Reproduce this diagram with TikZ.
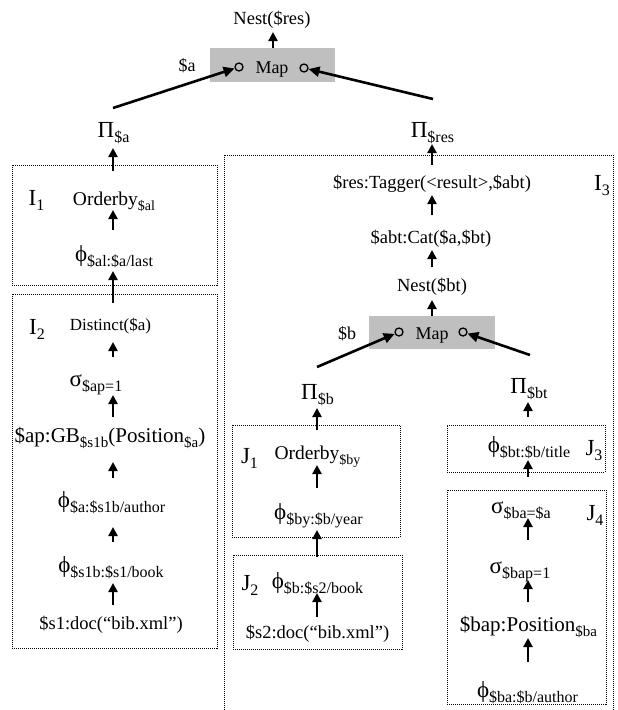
\documentclass[tikz,border=0pt]{standalone}
\usepackage{fontspec}
\setmainfont{Liberation Serif}
\usetikzlibrary{arrows.meta}
\newcommand\fsz[1]{\fontsize{#1}{#1}\selectfont}
\newcommand\low[2][16]{\raisebox{-5pt}{\fsz{#1}#2}}
\newcommand\gk[2][23]{{\fsz{#1}#2}}
\begin{document}
\begin{tikzpicture}[x=1pt,y=-1pt,
  txt/.style={inner sep=0pt, text height=0pt, text depth=0pt, font=\fsz{18.5}},
  arr/.style={line width=2.5pt, -{Triangle[width=9pt,length=9pt]}},
  link/.style={line width=2.6pt, -{Triangle[width=10pt,length=11pt]}},
  dbox/.style={draw, line width=0.9pt, dash pattern=on 1pt off 1pt, inner sep=0pt},
  mapbox/.style={fill=black!25, inner sep=0pt},
  port/.style={circle, draw, line width=1.3pt, fill=black!25, minimum size=8pt, inner sep=0pt},
  lbl/.style={inner sep=0pt, text height=0pt, text depth=0pt, font=\fsz{23}},
]
\useasboundingbox (0,0) rectangle (618,710);

% ---------- top ----------
\coordinate (col0) at (273,0);
\node[txt] (nestres) at (272,24) {Nest(\$res)};
\node[mapbox, minimum width=125pt, minimum height=34pt] (map1) at (272.5,65) {};
\node[txt, font=\fsz{18}] (map1t) at (272,73) {Map};
\node[port] (cL1) at (239,67) {};
\node[port] (cR1) at (304,68) {};
\node[txt, font=\fsz{18}] (va) at (187,71) {\$a};
\draw[arr, shorten >=8pt] (col0 |- map1.north) -- (col0 |- nestres);

% ---------- left branch ----------
\coordinate (col1) at (113,0);
\node[txt] (pa) at (113.5,137) {\gk{Π}\low{\$a}};
\coordinate (paTop) at (113,108);
\draw[link] (paTop) -- (cL1);

\node[dbox, minimum width=205pt, minimum height=120pt] (I1) at (114.5,225) {};
\node[lbl] (I1l) at (36.5,205) {I\low{1}};
\node[txt, font=\fsz{19.5}] (ob1) at (114,205) {Orderby\low[14]{\$al}};
\node[txt] (phi1) at (114,261) {\gk{ϕ}\low{\$al:\$a/last}};

\node[dbox, minimum width=205pt, minimum height=354pt] (I2) at (114.5,471) {};
\node[lbl] (I2l) at (37,334) {I\low{2}};
\node[txt, font=\fsz{17}] (dist) at (110.5,330) {Distinct(\$a)};
\node[txt] (sig1) at (96,386) {\gk{σ}\low{\$ap=1}};
\node[txt, font=\fsz{21}] (gb) at (110,442) {\$ap:GB\low[15]{\$s1b}(Position\low[15]{\$a})};
\node[txt] (phi2) at (111.5,507) {\gk{ϕ}\low{\$a:\$s1b/author}};
\node[txt] (phi3) at (111,572) {\gk{ϕ}\low{\$s1b:\$s1/book}};
\node[txt] (doc1) at (111,629) {\$s1:doc(“bib.xml”)};

\draw[arr, shorten <=-6pt, shorten >=11pt] (col1 |- I1.north) -- (col1 |- pa);
\draw[arr, shorten <=31pt, shorten >=5pt] (col1 |- phi1) -- (col1 |- ob1);
\draw[arr, shorten <=-9pt, shorten >=10pt] (col1 |- I2.north) -- (col1 |- phi1);
\draw[arr, shorten <=29pt, shorten >=12pt] (col1 |- sig1) -- (col1 |- dist);
\draw[arr, shorten <=25pt, shorten >=9pt] (col1 |- gb) -- (col1 |- sig1);
\draw[arr, shorten <=29pt, shorten >=20pt] (col1 |- phi2) -- (col1 |- gb);
\draw[arr, shorten <=30pt, shorten >=20pt] (col1 |- phi3) -- (col1 |- phi2);
\draw[arr, shorten <=24pt, shorten >=11pt] (col1 |- doc1) -- (col1 |- phi3);

% ---------- right branch ----------
\coordinate (col2) at (432,0);
\node[txt] (pres) at (432.5,137) {\gk{Π}\low{\$res}};
\coordinate (presTop) at (433,99);
\draw[link] (presTop) -- (cR1);

\node[dbox, minimum width=389pt, minimum height=570pt] (I3) at (418.5,440) {};
\node[lbl] (I3l) at (602,190) {I\low{3}};
\node[txt] (tag) at (432,188) {\$res:Tagger(<result>,\$abt)};
\node[txt] (cat) at (431,243) {\$abt:Cat(\$a,\$bt)};
\node[txt] (nestbt) at (432,291) {Nest(\$bt)};
\node[mapbox, minimum width=126pt, minimum height=33pt] (map2) at (432,332.5) {};
\node[txt, font=\fsz{18}] (map2t) at (432,339) {Map};
\node[port] (cL2) at (399,332) {};
\node[port] (cR2) at (463,332) {};
\node[txt, font=\fsz{18}] (vb) at (347,339) {\$b};

\draw[arr, shorten <=-10pt, shorten >=7pt] (col2 |- I3.north) -- (col2 |- pres);
\draw[arr, shorten <=28pt, shorten >=7pt] (col2 |- cat) -- (col2 |- tag);
\draw[arr, shorten <=24pt, shorten >=7pt] (col2 |- nestbt) -- (col2 |- cat);
\draw[arr, shorten >=9pt] (col2 |- map2.north) -- (col2 |- nestbt);

% J1 / J2
\coordinate (col3) at (317,0);
\node[txt] (pb) at (317.5,399) {\gk{Π}\low{\$b}};
\coordinate (pbTop) at (317,367);
\draw[link] (pbTop) -- (cL2);

\node[dbox, minimum width=168pt, minimum height=112pt] (J1) at (316,481) {};
\node[lbl] (J1l) at (249.5,463) {J\low{1}};
\node[txt, font=\fsz{19.5}] (ob2) at (317.5,459) {Orderby\low[14]{\$by}};
\node[txt] (phi4) at (318.5,519) {\gk{ϕ}\low{\$by:\$b/year}};

\node[dbox, minimum width=169pt, minimum height=94pt] (J2) at (317.5,602) {};
\node[lbl] (J2l) at (250,590) {J\low{2}};
\node[txt] (phi5) at (317.5,588) {\gk{ϕ}\low{\$b:\$s2/book}};
\node[txt] (doc2) at (317.5,638) {\$s2:doc(“bib.xml”)};

\draw[arr, shorten <=-5pt, shorten >=9pt] (col3 |- J1.north) -- (col3 |- pb);
\draw[arr, shorten <=31pt, shorten >=6pt] (col3 |- phi4) -- (col3 |- ob2);
\draw[arr, shorten <=-2pt, shorten >=11pt] (col3 |- J2.north) -- (col3 |- phi4);
\draw[arr, shorten <=21pt, shorten >=5pt] (col3 |- doc2) -- (col3 |- phi5);

% J3 / J4
\coordinate (col4) at (528,0);
\node[txt] (pbt) at (529,393) {\gk{Π}\low{\$bt}};
\coordinate (pbtTop) at (530,355);
\draw[link] (pbtTop) -- (cR2);

\node[dbox, minimum width=158pt, minimum height=47pt] (J3) at (526,448.5) {};
\node[txt] (phi6) at (529,452) {\gk{ϕ}\low{\$bt:\$b/title}};
\node[lbl] (J3l) at (594,455) {J\low{3}};

\node[dbox, minimum width=159pt, minimum height=214pt] (J4) at (526.5,597) {};
\node[txt] (sig2) at (521,513) {\gk{σ}\low{\$ba=\$a}};
\node[lbl] (J4l) at (595,520) {J\low{4}};
\node[txt] (sig3) at (520,573) {\gk{σ}\low{\$bap=1}};
\node[txt, font=\fsz{21}] (pos) at (528.5,631) {\$bap:Position\low[15]{\$ba}};
\node[txt] (phi7) at (527.5,697) {\gk{ϕ}\low{\$ba:\$b/author}};

\draw[arr, shorten <=8pt, shorten >=9pt] (col4 |- J3.north) -- (col4 |- pbt);
\draw[arr, shorten <=13pt, shorten >=8pt] (col4 |- J4.north) -- (col4 |- phi6);
\draw[arr, shorten <=33pt, shorten >=5pt] (col4 |- sig3) -- (col4 |- sig2);
\draw[arr, shorten <=29pt, shorten >=7pt] (col4 |- pos) -- (col4 |- sig3);
\draw[arr, shorten <=35pt, shorten >=7pt] (col4 |- phi7) -- (col4 |- pos);
\end{tikzpicture}
\end{document}
